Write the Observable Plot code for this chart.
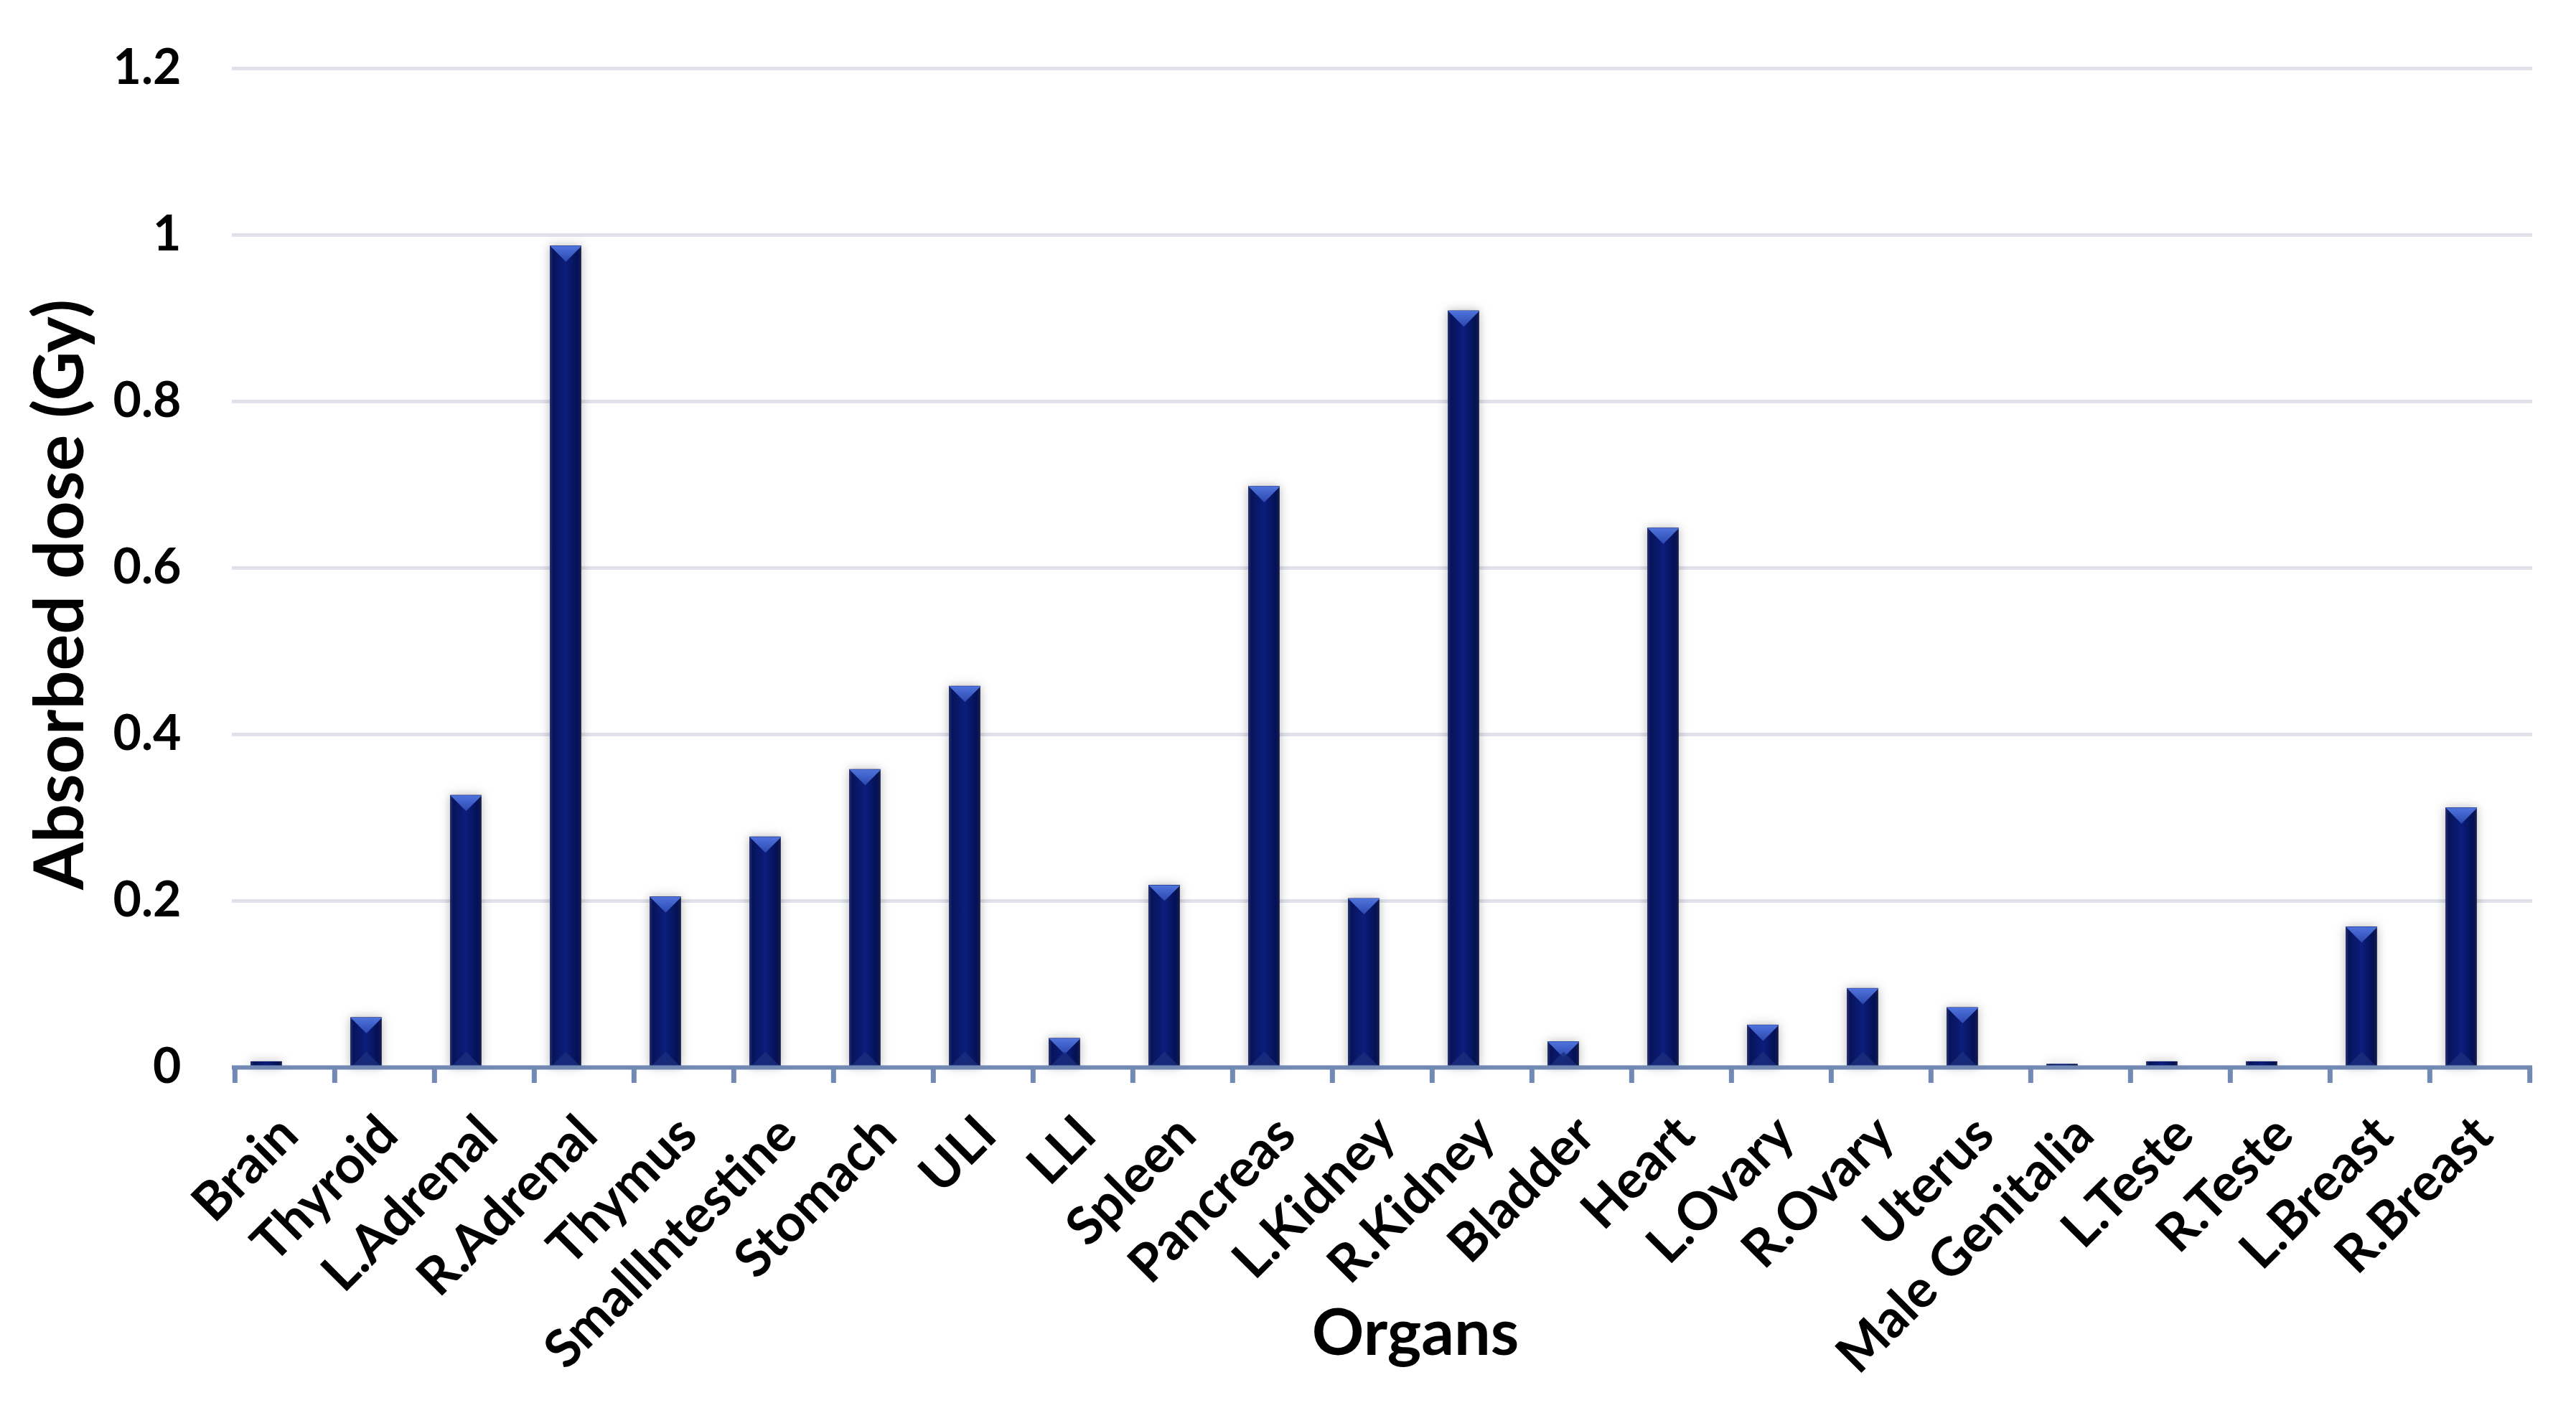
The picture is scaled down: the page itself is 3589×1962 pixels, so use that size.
<!DOCTYPE html>
<html><head><meta charset="utf-8">
<script src="https://cdn.jsdelivr.net/npm/d3@7"></script>
<script src="https://cdn.jsdelivr.net/npm/@observablehq/plot@0.6"></script>
<style>
html,body{margin:0;padding:0;background:#fff;overflow:hidden}
g[aria-label="bar"] rect{filter:drop-shadow(0px 0px 7px rgba(0,0,0,0.28))}
</style>
</head><body><div id="chart"></div>
<script>
const organs = ["Brain","Thyroid","L.Adrenal","R.Adrenal","Thymus","SmallIntestine","Stomach","ULI","LLI","Spleen","Pancreas","L.Kidney","R.Kidney","Bladder","Heart","L.Ovary","R.Ovary","Uterus","Male Genitalia","L.Teste","R.Teste","L.Breast","R.Breast"];
const doses = [0.007,0.060,0.327,0.987,0.205,0.277,0.358,0.458,0.035,0.219,0.698,0.203,0.909,0.031,0.648,0.051,0.095,0.072,0.004,0.007,0.007,0.169,0.312];
const yTicks = [0,0.2,0.4,0.6,0.8,1,1.2];
const yTickLabels = ["0","0.2","0.4","0.6","0.8","1","1.2"];
const xTitle = "Organs";
const yTitle = "Absorbed dose (Gy)";

const data = organs.map((organ,i)=>({organ, dose: doses[i]}));
const W=3589,H=1962, mL=323, mR=61, mT=95, mB=475;
const band = (W-mL-mR)/organs.length;
const inL = band*0.158, inR = band*0.525;
const barW = band - inL - inR;
const barDx = (inL - inR)/2;
const triH = barW*0.5;
const pxPerUnit = (H-mT-mB)/1.2;
const triDown = {draw(ctx){ ctx.moveTo(-barW/2,0); ctx.lineTo(barW/2,0); ctx.lineTo(0,triH); ctx.closePath(); }};
const triUp = {draw(ctx){ ctx.moveTo(-barW/2,0); ctx.lineTo(barW/2,0); ctx.lineTo(0,-triH); ctx.closePath(); }};
const font = "Lato, 'Open Sans', sans-serif";
const axisColor = "#7189b3";
const withTri = data.filter(d=>d.dose>0.02);

const chart = Plot.plot({
  width: W, height: H, marginLeft: mL, marginRight: mR, marginTop: mT, marginBottom: mB,
  style: {fontFamily: font, background: "#fff", overflow: "visible"},
  x: {domain: organs, padding: 0, axis: null},
  y: {domain: [0, 1.2], axis: null},
  marks: [
    Plot.gridY(yTicks.filter(d=>d>0), {stroke:"#dfe2eb", strokeOpacity:1, strokeWidth:5}),
    Plot.axisY(yTicks, {tickSize:0, tickPadding:71, tickFormat: d=>yTickLabels[yTicks.indexOf(d)], fontSize:68, fontWeight:"bold", fill:"#000", label:null}),
    Plot.barY(data, {x:"organ", y:"dose", fill:"url(#barGrad)", insetLeft: inL, insetRight: inR}),
    Plot.dot(withTri, {x:"organ", y:"dose", dx: barDx, symbol: triDown, fill:"url(#triTop)", stroke:"none"}),
    Plot.dot(withTri, {x:"organ", y:0, dx: barDx, symbol: triUp, fill:"#1c2f7c", fillOpacity:0.75, stroke:"none"}),
    Plot.ruleY([0], {stroke: axisColor, strokeWidth:6}),
    Plot.ruleX(organs, {x: d=>d, dx: -band/2, y1: 0, y2: -22/pxPerUnit, stroke: axisColor, strokeWidth:7}),
    Plot.ruleX(organs.slice(-1), {x: d=>d, dx: band/2, y1: 0, y2: -22/pxPerUnit, stroke: axisColor, strokeWidth:7}),
    Plot.text(organs, {x: d=>d, text: d=>d, frameAnchor:"bottom", rotate:-45, textAnchor:"end", lineAnchor:"bottom", dx:22, dy:98, fontSize:73, fontWeight:"bold", fill:"#000"}),
    Plot.text([xTitle], {text: d=>d, frameAnchor:"bottom", dx:46, dy:400, fontSize:90, fontWeight:"bold", lineAnchor:"bottom", textAnchor:"middle", fill:"#000"}),
    Plot.text([yTitle], {text: d=>d, frameAnchor:"left", rotate:-90, dx:-208, dy:37, fontSize:95, fontWeight:"bold", lineAnchor:"bottom", textAnchor:"middle", fill:"#000"})
  ]
});

d3.select(chart).insert("defs", ":first-child").html(`
  <linearGradient id="barGrad" x1="0" x2="1" y1="0" y2="0">
    <stop offset="0" stop-color="#2a3270"/>
    <stop offset="0.1" stop-color="#07145a"/>
    <stop offset="0.5" stop-color="#0c1d7c"/>
    <stop offset="0.88" stop-color="#041154"/>
    <stop offset="1" stop-color="#1a1f4a"/>
  </linearGradient>
  <linearGradient id="triTop" x1="0" x2="0" y1="0" y2="1">
    <stop offset="0" stop-color="#4f74dc"/>
    <stop offset="1" stop-color="#2c48b0"/>
  </linearGradient>`);
document.getElementById("chart").appendChild(chart);
</script>
</body></html>
